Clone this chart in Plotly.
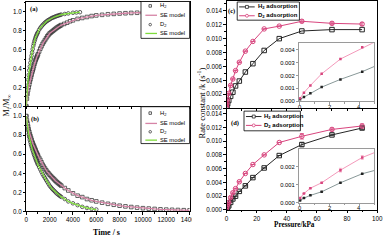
import plotly.graph_objects as go

W, H = 392, 240

# ---------------- data ----------------
# (a) adsorption kinetics
t_ads_H2 = [0,50,100,150,200,250,300,350,400,450,500,550,600,650,700,750,800,850,900,950,1000,
            1100,1200,1300,1400,1500,1600,1700,1800,1900,2000,2100,2200,2300,2400,2500,2600,2700,2800,2900,3000,
            3250,3500,3750,4000,4400,4800,5200,5600,6000,6500,7000,7500,8000,8500,9000,9500,10000,10400]
m_ads_H2 = [0,0.08,0.13,0.17,0.20,0.23,0.26,0.285,0.31,0.335,0.36,0.38,0.40,0.425,0.45,0.47,0.49,0.505,0.52,0.535,0.55,
            0.58,0.61,0.635,0.66,0.68,0.70,0.72,0.74,0.755,0.77,0.78,0.79,0.80,0.81,0.82,0.83,0.838,0.845,0.853,0.86,
            0.872,0.885,0.90,0.91,0.925,0.935,0.945,0.955,0.962,0.968,0.974,0.978,0.982,0.985,0.988,0.99,0.992,0.993]
t_ads_D2 = [0,50,100,150,200,250,300,350,400,450,500,550,600,650,700,750,800,850,900,950,1000,
            1100,1200,1300,1400,1500,1600,1700,1800,1900,2000,2100,2200,2300,2400,2500,2600,2700,2800,2900,3000,
            3300,3600,4000,4300,4600]
m_ads_D2 = [0,0.13,0.22,0.28,0.33,0.38,0.42,0.46,0.50,0.535,0.57,0.605,0.64,0.665,0.69,0.71,0.73,0.745,0.76,0.773,0.785,
            0.81,0.83,0.845,0.86,0.873,0.885,0.895,0.905,0.913,0.92,0.928,0.935,0.94,0.945,0.95,0.955,0.959,0.963,0.967,0.97,
            0.977,0.983,0.99,0.993,0.996]
# (b) desorption kinetics
t_des_H2 = [0,50,100,150,200,250,300,350,400,450,500,550,600,650,700,750,800,850,900,950,1000,
            1100,1200,1300,1400,1500,1600,1700,1800,1900,2000,2100,2200,2300,2400,2500,2600,2700,2800,2900,3000,
            3300,3600,4000,4400,4800,5200,5600,6000,6500,7000,7500,8000,8500,9000,9500,10000,10500,11000,11500,
            12000,12500,13000,13500,14000]
m_des_H2 = [1.0,0.955,0.92,0.89,0.86,0.835,0.81,0.79,0.77,0.75,0.73,0.715,0.70,0.685,0.67,0.655,0.64,0.625,0.61,0.597,0.585,
            0.562,0.54,0.515,0.49,0.47,0.45,0.432,0.415,0.40,0.385,0.372,0.36,0.347,0.335,0.322,0.31,0.30,0.29,0.28,0.27,
            0.245,0.22,0.19,0.165,0.15,0.13,0.117,0.105,0.092,0.08,0.07,0.06,0.053,0.046,0.04,0.034,0.03,0.026,0.022,
            0.019,0.017,0.015,0.013,0.012]
t_des_D2 = [0,50,100,150,200,250,300,350,400,450,500,550,600,650,700,750,800,850,900,950,1000,
            1100,1200,1300,1400,1500,1600,1700,1800,1900,2000,2100,2200,2300,2400,2500,2600,2700,2800,2900,3000,
            3300,3600,4000,4400,4800,5200,5600,6000]
m_des_D2 = [1.0,0.94,0.89,0.85,0.81,0.78,0.75,0.725,0.70,0.68,0.66,0.64,0.62,0.60,0.585,0.567,0.55,0.535,0.52,0.505,0.49,
            0.465,0.44,0.415,0.39,0.37,0.35,0.33,0.31,0.29,0.27,0.255,0.24,0.227,0.215,0.202,0.19,0.18,0.17,0.161,0.152,
            0.13,0.105,0.085,0.066,0.048,0.036,0.027,0.02]

# (c)/(d) rate constants vs pressure
pressure = [0.06,0.32,0.75,1.5,2.75,4.2,6,8.5,12.5,17.5,25,35,50,70,90]
k_c_H2 = [0.00015,0.00033,0.00062,0.0011,0.0017,0.0023,0.0032,0.0039,0.0052,0.0064,0.0083,0.0100,0.0111,0.0113,0.0113]
k_c_D2 = [0.00023,0.00067,0.00123,0.00213,0.00328,0.0042,0.0054,0.0066,0.0082,0.0096,0.0114,0.0118,0.0125,0.0122,0.0121]
k_d_H2 = [0.00012,0.00025,0.0004,0.0006,0.0011,0.0016,0.0020,0.0027,0.0035,0.0047,0.0061,0.0079,0.0095,0.0109,0.0119]
k_d_D2 = [0.00025,0.0005,0.0008,0.0011,0.0018,0.0025,0.0031,0.0041,0.0053,0.0066,0.0080,0.0098,0.0107,0.0117,0.0122]
err_d_H2 = [0,0,0,0,0,0,0,0,0,0,0,0,0.0003,0.0001,0.0002]
err_d_D2 = [0,0,0,0,0.0001,0.0001,0,0,0,0,0,0,0.0004,0.0002,0.0003]
err_c_D2 = [0,0,0,0,0,0,0,0,0,0,0,0,0.0002,0.0002,0.0002]

time_ticks = [0,2000,4000,6000,8000,10000,12000,14000]
time_labels = ['0','2000','4000','6000','8000','10000','12000','14000']
k_ticks = [0,0.002,0.004,0.006,0.008,0.010,0.012,0.014]
p_ticks = [0,20,40,60,80,100]
inset_p_ticks = [0,2,4]
inset_p_range = [0,5]

# ---------------- styling ----------------
C_MK = '#3a3a3a'
C_SE_H2 = '#d684a6'
C_SE_D2 = '#7fdc3c'
C_H2 = '#262626'
C_D2 = '#d8457e'
C_IN_H2 = '#7b8c8c'
C_IN_D2 = '#f28db2'
SANS = 'Liberation Sans, Arial, sans-serif'
SERIF = 'Liberation Serif, Times New Roman, serif'


def fx(px):
    return px / W


def fy(py):
    return 1 - py / H


fig = go.Figure()
MS = 3.6

# (a)
fig.add_trace(go.Scatter(x=t_ads_H2, y=m_ads_H2, mode='markers', xaxis='x', yaxis='y',
                         marker=dict(symbol='square-open', size=MS, color=C_MK, line=dict(width=0.8))))
fig.add_trace(go.Scatter(x=t_ads_D2, y=m_ads_D2, mode='markers', xaxis='x', yaxis='y',
                         marker=dict(symbol='circle-open', size=MS, color=C_MK, line=dict(width=0.8))))
fig.add_trace(go.Scatter(x=t_ads_H2, y=m_ads_H2, mode='lines', xaxis='x', yaxis='y',
                         line=dict(color=C_SE_H2, width=1.3)))
fig.add_trace(go.Scatter(x=t_ads_D2, y=m_ads_D2, mode='lines', xaxis='x', yaxis='y',
                         line=dict(color=C_SE_D2, width=1.3)))
# (b)
fig.add_trace(go.Scatter(x=t_des_H2, y=m_des_H2, mode='markers', xaxis='x2', yaxis='y2',
                         marker=dict(symbol='square-open', size=MS, color=C_MK, line=dict(width=0.8))))
fig.add_trace(go.Scatter(x=t_des_D2, y=m_des_D2, mode='markers', xaxis='x2', yaxis='y2',
                         marker=dict(symbol='circle-open', size=MS, color=C_MK, line=dict(width=0.8))))
fig.add_trace(go.Scatter(x=t_des_H2, y=m_des_H2, mode='lines', xaxis='x2', yaxis='y2',
                         line=dict(color=C_SE_H2, width=1.3)))
fig.add_trace(go.Scatter(x=t_des_D2, y=m_des_D2, mode='lines', xaxis='x2', yaxis='y2',
                         line=dict(color=C_SE_D2, width=1.3)))
# (c)
fig.add_trace(go.Scatter(x=pressure, y=k_c_H2, mode='lines+markers', xaxis='x3', yaxis='y3',
                         line=dict(color=C_H2, width=1),
                         marker=dict(symbol='square-open', size=4.5, color=C_H2, line=dict(width=1))))
fig.add_trace(go.Scatter(x=pressure, y=k_c_D2, mode='lines+markers', xaxis='x3', yaxis='y3',
                         line=dict(color=C_D2, width=1),
                         error_y=dict(type='data', array=err_c_D2, color=C_D2, thickness=0.8, width=2),
                         marker=dict(symbol='circle-open', size=4.5, color=C_D2, line=dict(width=1))))
# (d)
fig.add_trace(go.Scatter(x=pressure, y=k_d_H2, mode='lines+markers', xaxis='x4', yaxis='y4',
                         line=dict(color=C_H2, width=1),
                         error_y=dict(type='data', array=err_d_H2, color=C_H2, thickness=0.8, width=2),
                         marker=dict(symbol='square-open', size=4.5, color=C_H2, line=dict(width=1))))
fig.add_trace(go.Scatter(x=pressure, y=k_d_D2, mode='lines+markers', xaxis='x4', yaxis='y4',
                         line=dict(color=C_D2, width=1),
                         error_y=dict(type='data', array=err_d_D2, color=C_D2, thickness=0.8, width=2),
                         marker=dict(symbol='circle-open', size=4.5, color=C_D2, line=dict(width=1))))
# inset (c)
fig.add_trace(go.Scatter(x=pressure, y=k_c_H2, mode='lines+markers', xaxis='x5', yaxis='y5',
                         line=dict(color=C_IN_H2, width=0.9),
                         marker=dict(symbol='square', size=2.5, color='#222222')))
fig.add_trace(go.Scatter(x=pressure, y=k_c_D2, mode='lines+markers', xaxis='x5', yaxis='y5',
                         line=dict(color=C_IN_D2, width=0.9),
                         marker=dict(symbol='square', size=2.5, color=C_D2)))
# inset (d)
fig.add_trace(go.Scatter(x=pressure, y=k_d_H2, mode='lines+markers', xaxis='x6', yaxis='y6',
                         line=dict(color=C_IN_H2, width=0.9),
                         error_y=dict(type='data', array=err_d_H2, color=C_IN_H2, thickness=0.7, width=1.5),
                         marker=dict(symbol='square', size=2.5, color='#222222')))
fig.add_trace(go.Scatter(x=pressure, y=k_d_D2, mode='lines+markers', xaxis='x6', yaxis='y6',
                         line=dict(color=C_IN_D2, width=0.9),
                         error_y=dict(type='data', array=err_d_D2, color=C_IN_D2, thickness=0.7, width=1.5),
                         marker=dict(symbol='square', size=2.5, color=C_D2)))

tickfont = dict(family=SANS, size=6.3, color='black')
inset_tickfont = dict(family=SANS, size=5.8, color='black')


def ax(domain, rng, anchor, tickvals, ticktext=None, labels=True, color='black', font=tickfont, minor=None):
    if ticktext is None:
        ticktext = [str(v) for v in tickvals]
    d = dict(domain=domain, range=rng, anchor=anchor, showgrid=False, zeroline=False,
             showline=True, linecolor=color, linewidth=1, mirror=True,
             ticks='outside', ticklen=2.2, tickwidth=0.8, tickcolor=color,
             showticklabels=labels, tickfont=font, ticklabelstandoff=0,
             tickmode='array', tickvals=tickvals, ticktext=ticktext)
    if minor:
        d['minor'] = dict(ticklen=1.4, tickwidth=0.6, tickcolor=color, ticks='outside', dtick=minor)
    return d


def f1(v):
    return '%.1f' % v


def f3(v):
    return '%.3f' % v


m_ticks = [0, 0.2, 0.4, 0.6, 0.8, 1.0]
ki_c = [0, 0.001, 0.002, 0.003, 0.004]
ki_d = [0, 0.001, 0.002]

XL = (25, 193)
XR = (231, 386)
XIN = (305.7, 383)
xl = [fx(XL[0]), fx(XL[1])]
xr = [fx(XR[0]), fx(XR[1])]
xin = [fx(XIN[0]), fx(XIN[1])]
INSET_C_BOTTOM = 102
INSET_D_BOTTOM = 205

fig.update_layout(
    width=W, height=H, margin=dict(l=0, r=0, t=0, b=0),
    paper_bgcolor='white', plot_bgcolor='white', showlegend=False,
    xaxis=ax(xl, [0, 14000], 'y', time_ticks, time_labels, labels=False, minor=1000),
    yaxis=ax([fy(107), fy(1.4)], [0, 1.1], 'x', m_ticks, [f1(v) for v in m_ticks], minor=0.1),
    xaxis2=ax(xl, [0, 14000], 'y2', time_ticks, time_labels, minor=1000),
    yaxis2=ax([fy(214), fy(107.3)], [0, 1.1], 'x2', m_ticks, [f1(v) for v in m_ticks], minor=0.1),
    xaxis3=ax(xr, [0, 100], 'y3', p_ticks, labels=False, minor=10),
    yaxis3=ax([fy(109), fy(0.1)], [0, 0.0154], 'x3', k_ticks, [f3(v) for v in k_ticks], minor=0.001),
    xaxis4=ax(xr, [0, 100], 'y4', p_ticks, minor=10),
    yaxis4=ax([fy(212.5), fy(110)], [0, 0.01464], 'x4', k_ticks, [f3(v) for v in k_ticks], minor=0.001),
    xaxis5=ax(xin, inset_p_range, 'y5', inset_p_ticks, labels=False, color='#9a9a9a', font=inset_tickfont, minor=1),
    yaxis5=ax([fy(INSET_C_BOTTOM), fy(43)], [0, 0.0045], 'x5', ki_c, [f3(v) for v in ki_c],
              color='#9a9a9a', font=inset_tickfont),
    xaxis6=ax(xin, inset_p_range, 'y6', inset_p_ticks, labels=False, color='#9a9a9a', font=inset_tickfont, minor=1),
    yaxis6=ax([fy(INSET_D_BOTTOM), fy(150)], [0, 0.003], 'x6', ki_d, [f3(v) for v in ki_d],
              color='#9a9a9a', font=inset_tickfont),
)

shapes = []
annotations = []


def rect(x0, y0, x1, y1, line='black', fill='white', lw=0.8):
    shapes.append(dict(type='rect', xref='paper', yref='paper', x0=fx(x0), x1=fx(x1), y0=fy(y1), y1=fy(y0),
                       line=dict(color=line, width=lw), fillcolor=fill, layer='above'))


def hline(x0, x1, y, color, lw=1.2):
    shapes.append(dict(type='line', xref='paper', yref='paper', x0=fx(x0), x1=fx(x1), y0=fy(y), y1=fy(y),
                       line=dict(color=color, width=lw), layer='above'))


def glyph(kind, x, y, color, s=1.6, lw=0.8):
    shapes.append(dict(type='rect' if kind == 'square' else 'circle', xref='paper', yref='paper',
                       x0=fx(x - s), x1=fx(x + s), y0=fy(y + s), y1=fy(y - s),
                       line=dict(color=color, width=lw), fillcolor='white', layer='above'))


def text(x, y, s, size=6.3, family=SANS, anchor='left', color='black', angle=0, bold=False):
    if bold:
        s = '<b>' + s + '</b>'
    annotations.append(dict(x=fx(x), y=fy(y), xref='paper', yref='paper', text=s, showarrow=False,
                            xanchor=anchor, yanchor='middle', textangle=angle,
                            font=dict(family=family, size=size, color=color)))


# inset x tick labels (placed on the inset axis scale)
for v in inset_p_ticks:
    px = XIN[0] + (v - inset_p_range[0]) / (inset_p_range[1] - inset_p_range[0]) * (XIN[1] - XIN[0])
    text(px, INSET_C_BOTTOM + 5.5, str(v), size=5.8, anchor='center')
    text(px, INSET_D_BOTTOM + 5.5, str(v), size=5.8, anchor='center')

# hide overflow of the last time label (cut as in the original)
rect(195.3, 216, 228, 228, line='white', lw=0)

# legends (a) and (b)
leg_ab_labels = ['H<sub>2</sub>', 'SE model', 'D<sub>2</sub>', 'SE model']
leg_ab_kinds = ['square', 'line', 'circle', 'line']
leg_ab_colors = [C_MK, C_SE_H2, C_MK, C_SE_D2]
for (bx0, by0, bx1, by1, rows) in [(143, 0.5, 193, 38, [5, 14.5, 24, 33]),
                                    (143, 107.5, 193, 145, [114, 124.5, 133, 141.5])]:
    rect(bx0, by0, bx1, by1)
    for lab, kind, col, ry in zip(leg_ab_labels, leg_ab_kinds, leg_ab_colors, rows):
        if kind == 'line':
            hline(147.5, 159.5, ry, col, 1.3)
        else:
            glyph(kind, 152.5, ry, col, s=1.3)
        text(160.5, ry, lab, size=5.8)

# legends (c) and (d)
leg_cd_labels = ['H<sub>2</sub> adsorption', 'D<sub>2</sub> adsorption']
leg_cd_kinds = ['square', 'circle']
leg_cd_colors = [C_H2, C_D2]
for (bx0, by0, bx1, by1, rows) in [(242, 1, 306, 19.5, [6, 15]),
                                    (249, 112, 307, 132, [117.5, 126.5])]:
    rect(bx0, by0, bx1, by1)
    for lab, kind, col, ry in zip(leg_cd_labels, leg_cd_kinds, leg_cd_colors, rows):
        hline(bx0 + 2, bx0 + 18, ry, col, 1)
        glyph(kind, bx0 + 10, ry, col, s=1.5)
        text(bx0 + 19, ry, lab, size=6, bold=True)

# panel tags
text(33, 8, '(a)', size=6.5, family=SERIF, anchor='center', bold=True)
text(34, 120, '(b)', size=6.5, family=SERIF, anchor='center', bold=True)
text(236, 10, '(c)', size=6.5, family=SERIF, anchor='center', bold=True)
text(240, 124, '(d)', size=6.5, family=SERIF, anchor='center', bold=True)

# axis titles
text(108, 235.3, 'Time / s', size=8, family=SERIF, anchor='center', bold=True)
text(301, 227.5, 'Pressure/kPa', size=7.2, family=SERIF, anchor='center', bold=True)
text(5.5, 106, 'M<sub>t</sub>/M<sub>∞</sub>', size=8, family=SERIF, anchor='center', angle=-90)
text(205, 104, 'Rate constant /k (s<sup>-1</sup>)', size=8.5, family=SERIF, anchor='center', angle=-90)

fig.update_layout(shapes=shapes, annotations=annotations)
fig.write_html('out.html', config={'displayModeBar': False},
               post_script="document.body.style.margin='0';document.body.style.overflow='hidden';")
